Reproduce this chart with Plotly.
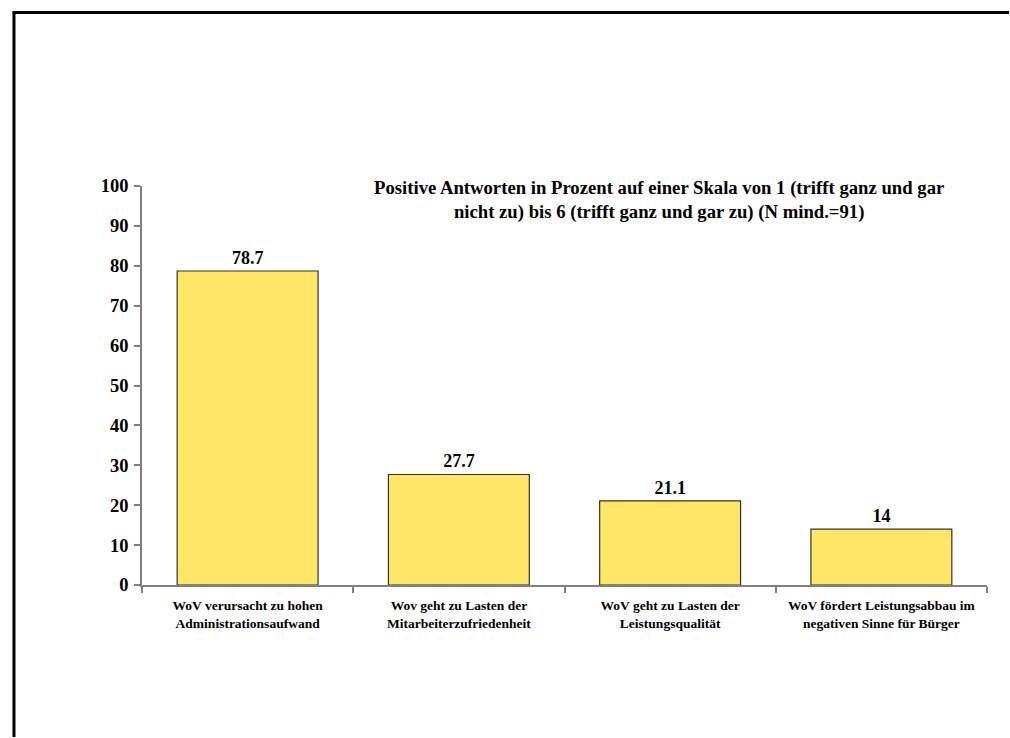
import plotly.graph_objects as go

categories = [
    "WoV verursacht zu hohen<br>Administrationsaufwand",
    "Wov geht zu Lasten der<br>Mitarbeiterzufriedenheit",
    "WoV geht zu Lasten der<br>Leistungsqualität",
    "WoV fördert Leistungsabbau im<br>negativen Sinne für Bürger",
]
values = [78.7, 27.7, 21.1, 14]
value_labels = ["78.7", "27.7", "21.1", "14"]
y_ticks = [0, 10, 20, 30, 40, 50, 60, 70, 80, 90, 100]

title_text = ("Positive Antworten in Prozent auf einer Skala von 1 (trifft ganz und gar<br>"
              "nicht zu) bis 6 (trifft ganz und gar zu) (N mind.=91)")

FONT = "Liberation Serif, Times New Roman, serif"

fig = go.Figure(
    go.Bar(
        x=categories,
        y=values,
        text=value_labels,
        textposition="outside",
        textfont=dict(family=FONT, size=18, color="black", weight="bold"),
        marker=dict(color="#FFE667", line=dict(color="#333333", width=1.2)),
        cliponaxis=False,
        hoverinfo="skip",
    )
)

fig.update_layout(
    width=1010,
    height=738,
    margin=dict(l=142, r=23, t=186, b=153),
    paper_bgcolor="white",
    plot_bgcolor="white",
    bargap=0.333,
    showlegend=False,
    font=dict(family=FONT, color="black", weight="bold"),
)

fig.update_xaxes(
    showline=True,
    linecolor="#808080",
    linewidth=1.5,
    ticks="outside",
    tickson="boundaries",
    ticklen=6,
    tickcolor="#808080",
    tickwidth=1.5,
    showgrid=False,
    tickfont=dict(family=FONT, size=13.5, color="black", weight="bold"),
    ticklabelstandoff=7,
)

fig.update_yaxes(
    range=[0, 100],
    tickvals=y_ticks,
    showline=True,
    linecolor="#808080",
    linewidth=1.5,
    ticks="outside",
    ticklen=6,
    tickcolor="#808080",
    tickwidth=1.5,
    showgrid=False,
    zeroline=False,
    tickfont=dict(family=FONT, size=18.5, color="black", weight="bold"),
    ticklabelstandoff=2,
)

# chart title, bold, two centred lines
fig.add_annotation(
    text=title_text,
    xref="paper", yref="paper",
    x=0.612, y=0.965,
    xanchor="center", yanchor="middle",
    showarrow=False,
    align="center",
    font=dict(family=FONT, size=18.7, color="black", weight="bold"),
)

# outer frame (left and top edges), kept inside the page
fig.add_shape(type="line", xref="paper", yref="paper",
              x0=-0.1515, x1=-0.1515, y0=-0.381, y1=1.4348,
              line=dict(color="black", width=3))
fig.add_shape(type="line", xref="paper", yref="paper",
              x0=-0.1532, x1=1.0260, y0=1.4348, y1=1.4348,
              line=dict(color="black", width=3))

fig.write_html("out.html", config={"displayModeBar": False})
